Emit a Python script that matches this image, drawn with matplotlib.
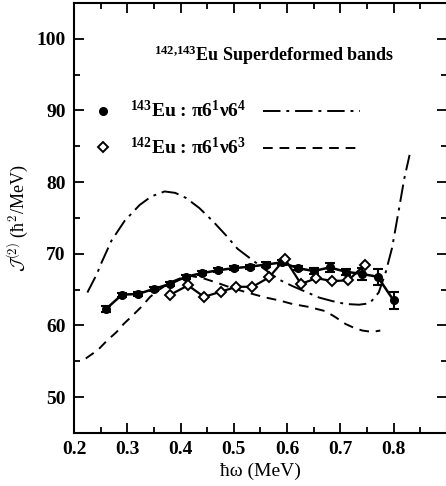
#!/usr/bin/env python

import numpy as np
import matplotlib
matplotlib.use("Agg")
import matplotlib.pyplot as plt

plt.rcParams['font.family'] = 'Liberation Serif'
plt.rcParams['font.weight'] = 'bold'
plt.rcParams['mathtext.fontset'] = 'custom'
plt.rcParams['mathtext.rm'] = 'Liberation Serif:bold'
plt.rcParams['mathtext.it'] = 'Liberation Serif:italic:bold'
plt.rcParams['mathtext.bf'] = 'Liberation Serif:bold'

# 143Eu band: dynamic moment of inertia J(2) vs rotational frequency
w143 = [0.26, 0.29, 0.32, 0.35, 0.38, 0.41, 0.44, 0.47, 0.50, 0.53,
        0.56, 0.59, 0.62, 0.65, 0.68, 0.71, 0.74, 0.77, 0.80]
j143 = [62.3, 64.3, 64.4, 65.1, 65.8, 66.8, 67.3, 67.7, 68.0, 68.2,
        68.5, 68.8, 68.0, 67.6, 68.1, 67.5, 67.2, 66.8, 63.5]
e143 = [0.4, 0.3, 0.3, 0.3, 0.3, 0.3, 0.3, 0.3, 0.3, 0.3,
        0.3, 0.3, 0.3, 0.4, 0.6, 0.4, 0.8, 1.1, 1.2]

# 142Eu band
w142 = [0.381, 0.414, 0.444, 0.475, 0.505, 0.535, 0.566, 0.596,
        0.626, 0.655, 0.685, 0.715, 0.746]
j142 = [64.3, 65.6, 64.0, 64.7, 65.4, 65.4, 66.7, 69.3,
        65.8, 66.6, 66.2, 66.3, 68.5]

# calculation, pi6^1 nu6^4 configuration
wc143 = [0.225, 0.243, 0.25, 0.27, 0.295, 0.323, 0.345, 0.37, 0.39, 0.41,
         0.435, 0.46, 0.485, 0.507, 0.53, 0.555, 0.585, 0.61, 0.635, 0.66,
         0.685, 0.71, 0.735, 0.755, 0.772, 0.785, 0.797, 0.809, 0.82, 0.83]
jc143 = [64.6, 67.2, 68.5, 71.8, 74.6, 76.8, 78.0, 78.7, 78.5, 77.8,
         76.4, 74.6, 72.6, 70.7, 69.4, 68.0, 66.4, 65.5, 64.7, 63.9,
         63.4, 63.0, 62.9, 63.1, 64.6, 67.4, 70.8, 75.8, 80.5, 83.8]

# calculation, pi6^1 nu6^3 configuration
wc142 = [0.222, 0.245, 0.262, 0.28, 0.293, 0.31, 0.325, 0.343, 0.36, 0.38,
         0.40, 0.42, 0.442, 0.467, 0.49, 0.516, 0.54, 0.56, 0.585, 0.61,
         0.64, 0.672, 0.69, 0.71, 0.725, 0.741, 0.76, 0.775]
jc142 = [55.4, 56.6, 57.9, 59.1, 60.2, 61.4, 62.5, 64.0, 65.0, 66.0,
         66.6, 66.9, 66.6, 66.0, 65.4, 64.8, 64.3, 63.9, 63.5, 63.0,
         62.6, 62.0, 61.2, 60.2, 59.7, 59.3, 59.1, 59.3]

dashdot = (0, (9, 3, 1.5, 3))
dashed = (0, (5, 3.5))

fig = plt.figure(figsize=(4.46, 4.86), dpi=100)
ax = fig.add_axes([0.166, 0.109, 0.836, 0.885])

ax.plot(wc143, jc143, color='k', lw=1.4, linestyle=dashdot)
ax.plot(wc142, jc142, color='k', lw=1.4, linestyle=dashed)
ax.errorbar(w143, j143, yerr=e143, color='k', lw=1.8, marker='o', ms=5.5,
            capsize=3.5, capthick=1.5, elinewidth=1.5, zorder=3)
ax.plot(w142, j142, color='k', lw=1.6, marker='D', ms=5, mfc='white',
        mec='k', mew=1.4, zorder=4)

ax.set_xlim(0.2, 0.9)
ax.set_ylim(45, 105)
ax.set_xticks([0.2, 0.3, 0.4, 0.5, 0.6, 0.7, 0.8])
ax.set_xticklabels(['0.2', '0.3', '0.4', '0.5', '0.6', '0.7', '0.8'])
ax.set_xticks(np.arange(0.25, 0.9, 0.1), minor=True)
ax.set_yticks([50, 60, 70, 80, 90, 100])
ax.set_yticks([55, 65, 75, 85, 95], minor=True)
ax.tick_params(which='both', direction='in', top=True, right=True,
               labelsize=14, width=1.3)
ax.tick_params(which='major', length=7, pad=6)
ax.tick_params(which='minor', length=4)
for s in ax.spines.values():
    s.set_linewidth(1.5)

ax.set_xlabel('ħω (MeV)', fontsize=14, labelpad=3)
ax.set_ylabel(r'$\mathcal{J}^{(2)}$ (ħ$^2$/MeV)', fontsize=13,
              math_fontfamily='cm', labelpad=4)

# legend drawn by hand
ax.text(0.536, 0.879, r'$^{142{,}143}$Eu Superdeformed bands', fontsize=13,
        ha='center', va='center', transform=ax.transAxes)
ax.plot([0.078], [0.749], 'o', color='k', ms=5.5, transform=ax.transAxes)
ax.plot([0.078], [0.665], 'D', mfc='white', mec='k', mew=1.4, ms=5,
        transform=ax.transAxes)
ax.text(0.15, 0.749, r'$^{143}$Eu : π6$^1$ν6$^4$', fontsize=14,
        ha='left', va='center', transform=ax.transAxes)
ax.text(0.15, 0.665, r'$^{142}$Eu : π6$^1$ν6$^3$', fontsize=14,
        ha='left', va='center', transform=ax.transAxes)
ax.plot([0.507, 0.767], [0.749, 0.749], color='k', lw=1.4,
        linestyle=dashdot, transform=ax.transAxes)
ax.plot([0.507, 0.767], [0.662, 0.662], color='k', lw=1.4,
        linestyle=dashed, transform=ax.transAxes)

fig.savefig('out.png', dpi=100)
